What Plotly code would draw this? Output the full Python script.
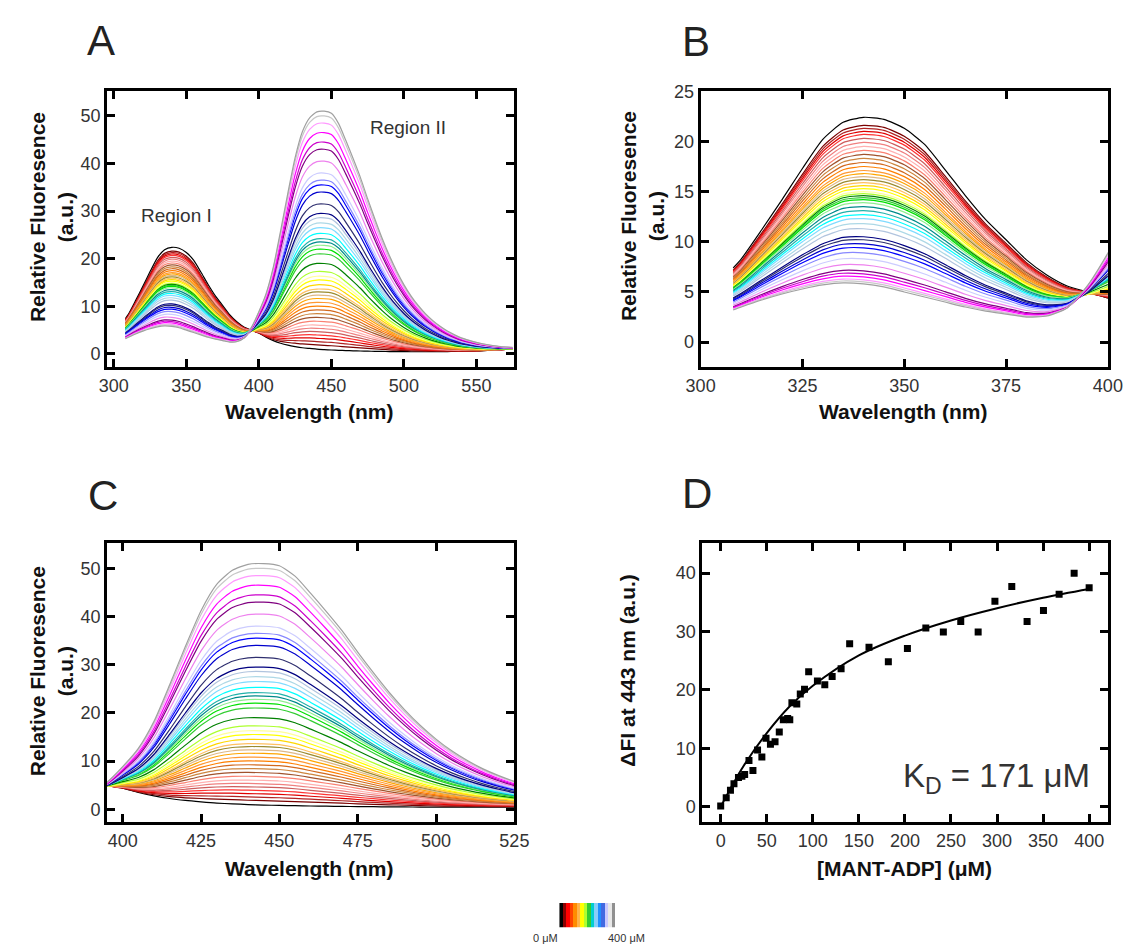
import numpy as np
import plotly.graph_objects as go

# ---------------- data ----------------
# wavelength grid (nm) at which the spectral components were read
WL = [308, 310, 315, 320, 325, 330, 335, 340, 345, 350, 355, 360, 365, 370, 375, 380,
      385, 390, 395, 400, 405, 410, 415, 420, 425, 430, 435, 440, 445, 450, 455, 460,
      465, 470, 475, 480, 485, 490, 495, 500, 505, 510, 515, 520, 525, 530, 535, 540,
      545, 550, 555, 560, 565, 570, 575]

# 0 uM spectrum (free protein, tryptophan emission)
TRP_FREE = [7.4, 8.3, 11.2, 14.2, 17.3, 20.2, 21.9, 22.4, 22.2, 21.3, 19.7, 17.2, 14.6, 12.2, 10.2, 8.2,
            6.7, 5.6, 5.0, 4.4, 3.5, 2.8, 2.25, 1.85, 1.55, 1.3, 1.15, 1.0, 0.9, 0.82, 0.76, 0.7,
            0.66, 0.62, 0.58, 0.55, 0.52, 0.5, 0.48, 0.47, 0.46, 0.46, 0.46, 0.47, 0.48, 0.5, 0.52, 0.55,
            0.58, 0.62, 0.68, 0.76, 0.85, 0.95, 1.05]

# fully quenched tryptophan emission (saturating MANT-ADP)
TRP_BOUND = [3.2, 3.5, 4.2, 4.8, 5.3, 5.7, 5.9, 5.8, 5.5, 5.0, 4.5, 4.0, 3.5, 3.1, 2.8, 2.5,
             2.3, 2.2, 2.0, 1.8, 1.55, 1.3, 1.1, 0.95, 0.8, 0.7, 0.6, 0.52, 0.46, 0.42, 0.38, 0.35,
             0.32, 0.3, 0.28, 0.26, 0.25, 0.24, 0.23, 0.22, 0.22, 0.22, 0.22, 0.23, 0.24, 0.25, 0.27, 0.29,
             0.31, 0.34, 0.37, 0.41, 0.45, 0.5, 0.55]

# MANT emission at saturation (Region II)
MANT_SAT = [0, 0, 0, 0, 0, 0, 0, 0, 0, 0, 0, 0, 0, 0, 0, 0,
            0.3, 1.2, 3.6, 7.0, 11.0, 16.8, 24.5, 32.5, 40.0, 45.5, 48.5, 49.8, 50.0, 49.6, 47.5, 44.0,
            40.3, 36.4, 32.0, 27.8, 23.8, 20.2, 17.0, 14.2, 11.8, 9.8, 8.1, 6.7, 5.5, 4.5, 3.7, 3.0,
            2.5, 2.05, 1.7, 1.4, 1.15, 0.95, 0.8]

# one spectrum per titration point (0 -> 400 uM)
SPEC_COLORS = ["#000000", "#7A0000", "#B22222", "#E00000", "#FF3333", "#CD5C5C", "#F08080", "#FFB0B0",
               "#FA8072", "#A0522D", "#CD853F", "#D2691E", "#FF7F00", "#FF9933", "#FFA500", "#DEB887",
               "#9A8B30", "#FFC060", "#FFD700", "#FFFF00", "#FFFF99", "#ADFF2F", "#008000", "#32CD32",
               "#00E000", "#90EE90", "#008B8B", "#20B2AA", "#00FFFF", "#7FDBFF", "#ADD8E6", "#B0C4DE",
               "#000080", "#2F2F6F", "#0000CD", "#0000FF", "#8888FF", "#CCCCFF", "#EE82EE", "#800080",
               "#CC00CC", "#FF00FF", "#FF99FF", "#C8C8C8", "#A0A0A0"]
# fluorescence at 340 nm (Region I) and 445 nm (Region II) for each spectrum
PEAK_I = [22.4, 21.6, 21.3, 21.0, 20.7, 20.3, 19.9, 19.5, 19.1, 18.7, 18.3, 17.9, 17.5, 17.1, 16.8,
          16.5, 16.2, 15.9, 15.6, 15.3, 15.0, 14.8, 14.6, 14.4, 14.2, 13.9, 13.5, 13.1, 12.7, 12.3,
          11.8, 11.3, 10.5, 10.2, 9.8, 9.4, 8.9, 8.3, 7.7, 7.1, 6.8, 6.5, 6.2, 6.0, 5.8]
PEAK_II = [0.9, 1.8, 2.5, 3.2, 3.9, 4.6, 5.3, 6.0, 6.8, 7.6, 8.4, 9.2, 10.0, 10.8, 11.6,
           12.3, 13.0, 13.6, 14.5, 15.5, 16.3, 17.3, 19.0, 21.0, 22.0, 22.8, 23.5, 24.2, 25.3, 26.5,
           27.5, 28.6, 29.5, 31.5, 34.0, 35.5, 36.5, 38.0, 40.5, 43.0, 44.5, 46.5, 48.5, 50.0, 51.0]

# panel D: binding curve
D_CONC = [0, 6, 10.6, 14.4, 19.3, 23, 26, 30.7, 35, 40, 44.7, 49.2, 54, 59, 63.6, 68, 72.7, 75,
          77.3, 82.6, 86.4, 91, 95.5, 105, 113, 121, 130.7, 140, 161, 182, 202.7, 222.7, 241.7,
          260.6, 279.5, 297.7, 316, 332.6, 350.4, 367.4, 383.7, 400]
D_DFI = [0.1, 1.5, 2.8, 3.9, 5.0, 5.2, 5.5, 7.9, 6.2, 9.7, 8.5, 11.7, 10.7, 11.1, 12.8, 14.9, 15.1,
         14.9, 17.8, 17.6, 19.3, 20.1, 23.1, 21.5, 20.9, 22.3, 23.6, 27.9, 27.3, 24.8, 27.1, 30.6,
         29.9, 31.7, 29.9, 35.2, 37.7, 31.7, 33.6, 36.4, 40.0, 37.5]
FIT_X = [0, 10, 25, 50, 75, 100, 150, 200, 250, 300, 350, 400]
FIT_Y = [0, 2.9, 7.0, 12.6, 17.2, 20.7, 25.9, 29.3, 31.9, 34.0, 35.8, 37.3]

CB_COLORS = ["#000000", "#8B0000", "#FF0000", "#FF4500", "#FF8C00", "#FFB347", "#FFFF00", "#ADFF2F",
             "#32CD32", "#00CED1", "#87CEFA", "#1E90FF", "#4169E1", "#C8C8FF", "#E8E8E8", "#909090"]

# ---------------- build ----------------
OFF = 8                      # default body margin of the written page
W, H = 1144 - OFF, 951 - OFF
def px(x): return (x - OFF) / W
def py(y): return 1 - (y - OFF) / H

wl = np.array(WL, float)
tf, tb, ms = np.array(TRP_FREE), np.array(TRP_BOUND), np.array(MANT_SAT)
i340, i445 = WL.index(340), WL.index(445)

fig = go.Figure()
for xa, ya in [("x", "y"), ("x2", "y2"), ("x3", "y3")]:
    for col, pI, pII in zip(SPEC_COLORS, PEAK_I, PEAK_II):
        f = (tf[i340] - pI) / (tf[i340] - tb[i340])
        base = (1 - f) * tf[i445] + f * tb[i445]
        g = (pII - base) / ms[i445]
        y = (1 - f) * tf + f * tb + g * ms
        fig.add_trace(go.Scatter(x=wl, y=y, mode="lines", xaxis=xa, yaxis=ya,
                                 line=dict(color=col, width=1.2, shape="spline", smoothing=0.6),
                                 showlegend=False, hoverinfo="skip"))

fig.add_trace(go.Scatter(x=FIT_X, y=FIT_Y, mode="lines", xaxis="x4", yaxis="y4",
                         line=dict(color="black", width=2, shape="spline"), showlegend=False))
fig.add_trace(go.Scatter(x=D_CONC, y=D_DFI, mode="markers", xaxis="x4", yaxis="y4",
                         marker=dict(symbol="square", size=7, color="black"), showlegend=False))

fig.add_trace(go.Bar(x=list(range(len(CB_COLORS))), y=[1] * len(CB_COLORS), width=1,
                     marker=dict(color=CB_COLORS, line=dict(width=0)),
                     xaxis="x5", yaxis="y5", showlegend=False, hoverinfo="skip"))

FONT = "Arial, Liberation Sans, sans-serif"
ax = dict(showline=True, linecolor="black", linewidth=3, mirror="ticks", ticks="inside",
          ticklen=8, tickwidth=3, tickcolor="black", showgrid=False, zeroline=False,
          tickfont=dict(family=FONT, size=18, color="#333333"), fixedrange=True)

A_X = [px(94.3), px(512.7)]
B_X = [px(704), px(1122.3)]
D_X = [px(705.7), px(1122)]
TOP_Y = [py(361), py(82)]
BOT_Y = [py(821), py(539)]

fig.update_layout(
    width=W, height=H, margin=dict(l=0, r=0, t=0, b=0), autosize=False,
    paper_bgcolor="white", plot_bgcolor="white", bargap=0,
    xaxis=dict(ax, domain=A_X, range=[295.3, 576.2], tick0=300, dtick=50, anchor="y"),
    yaxis=dict(ax, domain=TOP_Y, range=[-2.8, 55.2], tick0=0, dtick=10, anchor="x"),
    xaxis2=dict(ax, domain=B_X, range=[300, 400], tick0=300, dtick=25, anchor="y2"),
    yaxis2=dict(ax, domain=TOP_Y, range=[-2.5, 25], tick0=0, dtick=5, anchor="x2"),
    xaxis3=dict(ax, domain=A_X, range=[395, 525], tick0=400, dtick=25, anchor="y3"),
    yaxis3=dict(ax, domain=BOT_Y, range=[-2.7, 55.2], tick0=0, dtick=10, anchor="x3"),
    xaxis4=dict(ax, domain=D_X, range=[-20, 420], tick0=0, dtick=50, anchor="y4"),
    yaxis4=dict(ax, domain=BOT_Y, range=[-2.7, 45.1], tick0=0, dtick=10, anchor="x4"),
    xaxis5=dict(domain=[px(559), px(617)], range=[-0.5, len(CB_COLORS) - 0.5], visible=False,
                anchor="y5", fixedrange=True),
    yaxis5=dict(domain=[py(927), py(902)], range=[0, 1], visible=False, anchor="x5", fixedrange=True),
)

ann = []
def add(text, x, y, size, color="#222222", angle=0, xanchor="center", bold=False):
    if bold:
        text = "<b>" + text + "</b>"
    ann.append(dict(text=text, x=px(x), y=py(y), xref="paper", yref="paper", showarrow=False,
                    xanchor=xanchor, yanchor="middle", textangle=angle,
                    font=dict(family=FONT, size=size, color=color)))

# panel letters
add("A", 88, 31, 42)
add("B", 699, 32, 42)
add("C", 90, 491, 42)
add("D", 700, 489, 42)
# axis titles
add("Wavelength (nm)", 302, 406, 21, "#111111", bold=True)
add("Wavelength (nm)", 912, 406, 21, "#111111", bold=True)
add("Wavelength (nm)", 302, 868, 21, "#111111", bold=True)
add("[MANT-ADP] (μM)", 913, 868, 21, "#111111", bold=True)
add("Relative Fluoresence<br>(a.u.)", 37, 209, 21, "#111111", angle=-90, bold=True)
add("Relative Fluoresence<br>(a.u.)", 644, 208, 21, "#111111", angle=-90, bold=True)
add("Relative Fluoresence<br>(a.u.)", 37, 668, 21, "#111111", angle=-90, bold=True)
add("ΔFI at 443 nm (a.u.)", 628, 668, 21, "#111111", angle=-90, bold=True)
# in-plot labels
add("Region I", 166, 208, 19, "#333333")
add("Region II", 403, 119, 19, "#333333")
add("K<sub>D</sub> = 171 μM", 1106, 776, 33, "#333333", xanchor="right")
# colour key
add("0 μM", 560, 938, 11, "#333333", xanchor="right")
add("400 μM", 607, 938, 11, "#333333", xanchor="left")
fig.update_layout(annotations=ann)

fig.write_html("out.html")
